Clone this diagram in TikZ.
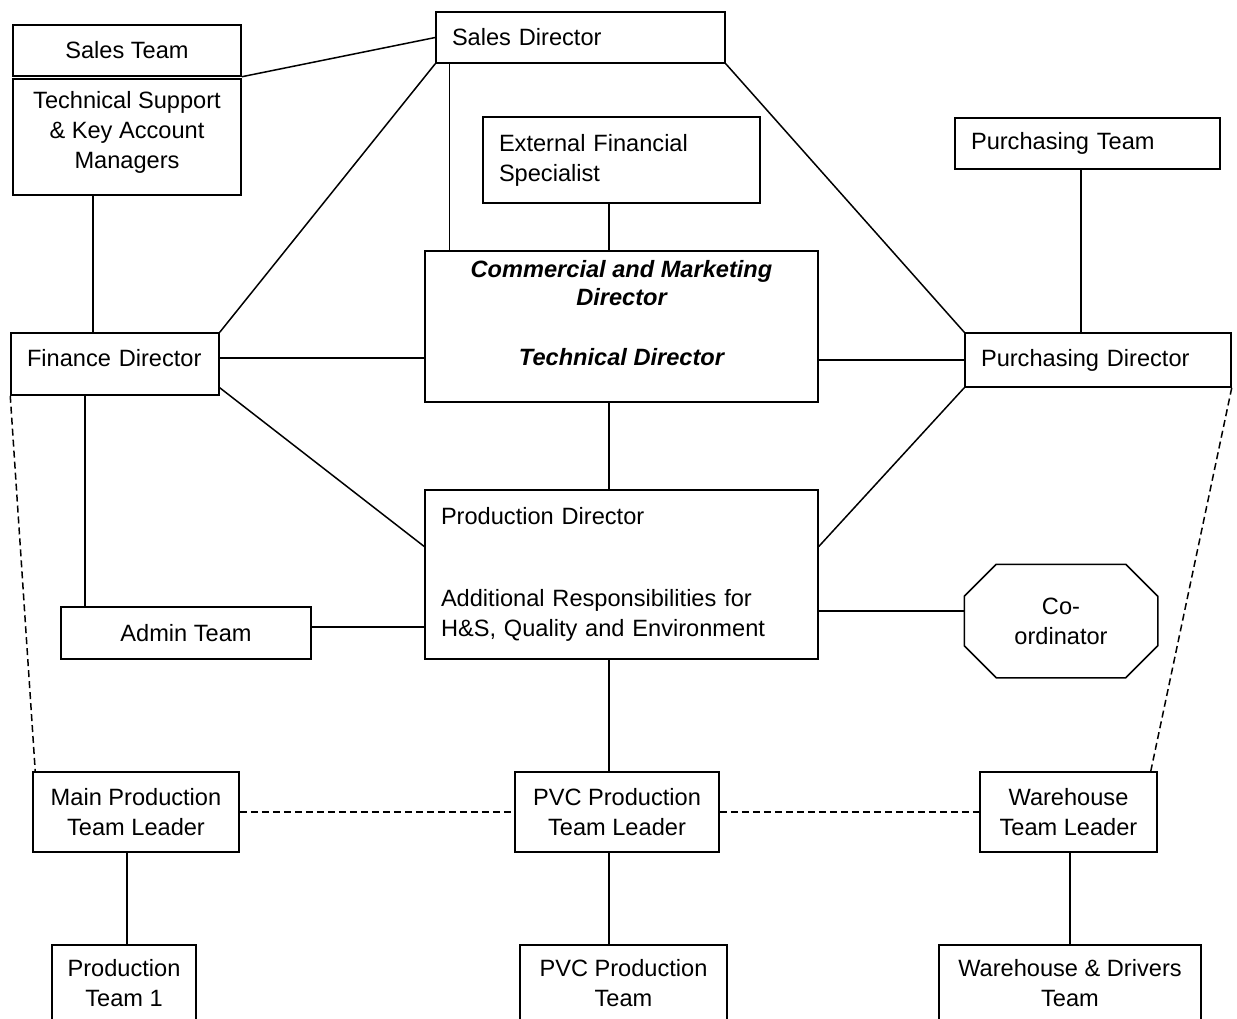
\documentclass[tikz,border=0pt]{standalone}
\usepackage{fontspec}
\setmainfont{Liberation Sans}

\begin{document}
\begin{tikzpicture}[x=0.5pt, y=-0.5pt,
    box/.style={draw, line width=0.75pt, inner sep=0pt, align=center,
      font=\fontsize{11.8}{15}\selectfont},
    lbox/.style={box, align=left, inner xsep=8pt},
    link/.style={line width=0.75pt},
    dashlink/.style={line width=0.75pt, dash pattern=on 3.5pt off 2pt}]
  \useasboundingbox (0,0) rectangle (1237,1018);
  \clip (0,0) rectangle (1237,1018);

  % top row
  \node[box, minimum width=114pt, minimum height=25.5pt] (salesteam) at (127,50.5) {Sales Team};
  \node[box, minimum width=114pt, minimum height=58pt] (techsupport) at (127,137) {Technical Support\\ \& Key Account\\ Managers\\[-8pt]\mbox{}};
  \node[lbox, text width=128.5pt, minimum height=25.5pt] (salesdir) at (580.5,37.5) {Sales Director};
  \node[lbox, text width=122.5pt, minimum height=43pt] (extfin) at (621.5,160) {External Financial\\ Specialist};
  \node[lbox, text width=116.5pt, minimum height=25.5pt] (purchteam) at (1087.5,143.5) {Purchasing Team};

  % directors
  \node[box, minimum width=196.5pt, minimum height=75.5pt,
    font=\fontsize{11.8}{14}\selectfont\bfseries\itshape] (commercial) at (621.5,326.5)
    {Commercial and Marketing\\ Director\\[16pt] Technical Director\\ \mbox{}};
  \node[lbox, text width=88pt, minimum height=31pt] (findir) at (115,364) {Finance Director\\[-9pt]\mbox{}};
  \node[lbox, text width=117pt, minimum height=27pt] (purchdir) at (1098,360) {Purchasing Director};
  \node[lbox, text width=180.5pt, minimum height=84.5pt] (proddir) at (621.5,574.5)
    {Production Director\\[26pt] Additional Responsibilities for\\ H\&S, Quality and Environment};
  \node[box, minimum width=125pt, minimum height=26pt] (admin) at (186,633) {Admin Team};
  \node[box, draw=none, minimum width=96pt, minimum height=56pt] (coord) at (1061,621) {Co-\\ ordinator};
  % octagon round the co-ordinator
  \draw[link] ([xshift=16pt]coord.north west) -- ([xshift=-16pt]coord.north east)
    -- ([yshift=-16pt]coord.north east) -- ([yshift=16pt]coord.south east)
    -- ([xshift=-16pt]coord.south east) -- ([xshift=16pt]coord.south west)
    -- ([yshift=16pt]coord.south west) -- ([yshift=-16pt]coord.north west) -- cycle;

  % team leaders and teams
  \node[box, minimum width=103pt, minimum height=40pt] (mainlead) at (136,812) {Main Production\\ Team Leader};
  \node[box, minimum width=102pt, minimum height=40pt] (pvclead) at (617,812) {PVC Production\\ Team Leader};
  \node[box, minimum width=88.5pt, minimum height=40pt] (whlead) at (1068.5,812) {Warehouse\\ Team Leader};
  \node[box, minimum width=72pt, minimum height=38pt] (prodteam) at (124,983) {Production\\ Team 1};
  \node[box, minimum width=103.5pt, minimum height=38pt] (pvcteam) at (623.5,983) {PVC Production\\ Team};
  \node[box, minimum width=131pt, minimum height=38pt] (whteam) at (1070,983) {Warehouse \& Drivers\\ Team};

  % solid links
  \draw[link] (salesteam.south east) -- (salesdir.west);
  \draw[link] ([xshift=-17pt]techsupport.south) -- ([xshift=-17pt]techsupport.south |- findir.north);
  \draw[link] (salesdir.south west) -- (findir.north east);
  \draw[link] ([xshift=7pt]salesdir.south west) -- ([xshift=7pt]salesdir.south west |- commercial.north);
  \draw[link] (salesdir.south east) -- (purchdir.north west);
  \draw[link] ([xshift=-6.25pt]extfin.south) -- ([xshift=-6.25pt]extfin.south |- commercial.north);
  \draw[link] ([xshift=-3.25pt]purchteam.south) -- ([xshift=-3.25pt]purchteam.south |- purchdir.north);
  \draw[link] ([yshift=3pt]findir.east) -- ([yshift=3pt]findir.east -| commercial.west);
  \draw[link] (purchdir.west) -- (purchdir.west -| commercial.east);
  \draw[link] ([xshift=-6.25pt]commercial.south) -- ([xshift=-6.25pt]commercial.south |- proddir.north);
  \draw[link] ([yshift=4pt]findir.south east) -- ([yshift=14pt]proddir.west);
  \draw[link] (purchdir.south west) -- ([yshift=14pt]proddir.east);
  \draw[link] ([xshift=-15pt]findir.south) -- ([xshift=-15pt]findir.south |- admin.north);
  \draw[link] ([yshift=3pt]admin.east) -- ([yshift=3pt]admin.east -| proddir.west);
  \draw[link] ([yshift=5pt]coord.west) -- ([yshift=5pt]coord.west -| proddir.east);
  \draw[link] ([xshift=-6.25pt]proddir.south) -- ([xshift=-6.25pt]proddir.south |- pvclead.north);
  \draw[link] ([xshift=1.5pt]prodteam.north) -- ([xshift=1.5pt]prodteam.north |- mainlead.south);
  \draw[link] ([xshift=-7.25pt]pvcteam.north) -- ([xshift=-7.25pt]pvcteam.north |- pvclead.south);
  \draw[link] (whteam.north) -- (whteam.north |- whlead.south);

  % dashed links
  \draw[dashlink] (mainlead.east) -- (pvclead.west);
  \draw[dashlink] (pvclead.east) -- (whlead.west);
  \draw[dashlink] (findir.south west) -- ([xshift=1.5pt]mainlead.north west);
  \draw[dashlink] (purchdir.south east) -- ([xshift=-3.5pt]whlead.north east);
\end{tikzpicture}
\end{document}
